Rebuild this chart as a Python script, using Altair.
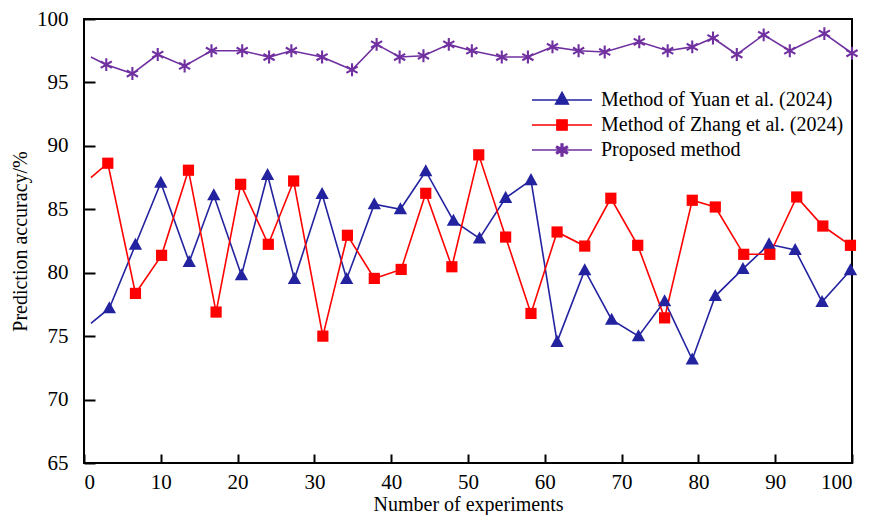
import math
import altair as alt
import pandas as pd

# ---------------- data ----------------
series_names = ["Method of Yuan et al. (2024)", "Method of Zhang et al. (2024)", "Proposed method"]
series_colors = ["#2323A0", "#FF0000", "#7030A0"]

x_yuan = [0.9, 3.3, 6.7, 10.0, 13.7, 16.9, 20.5, 23.9, 27.4, 31.0, 34.2, 37.8, 41.2, 44.5, 48.1,
          51.5, 54.9, 58.2, 61.6, 65.2, 68.7, 72.2, 75.6, 79.2, 82.2, 85.8, 89.2, 92.6, 96.1, 99.8]
yuan = [76.0, 77.2, 82.2, 87.1, 80.85, 86.1, 79.8, 87.7, 79.5, 86.2, 79.5, 85.4, 85.0, 88.0, 84.1,
        82.7, 85.9, 87.3, 74.55, 80.2, 76.3, 75.0, 77.76, 73.16, 78.16, 80.3, 82.24, 81.8, 77.7, 80.2]

x_zhang = [0.9, 3.1, 6.7, 10.1, 13.6, 17.2, 20.4, 24.0, 27.3, 31.1, 34.3, 37.8, 41.3, 44.5, 47.9,
           51.4, 54.9, 58.2, 61.6, 65.2, 68.6, 72.1, 75.6, 79.2, 82.2, 85.9, 89.3, 92.8, 96.2, 99.8]
zhang = [87.5, 88.63, 78.37, 81.37, 88.08, 76.9, 86.97, 82.24, 87.23, 75.0, 82.95, 79.55, 80.26, 86.26, 80.47,
         89.29, 82.81, 76.79, 83.21, 82.1, 85.87, 82.16, 76.44, 85.71, 85.18, 81.45, 81.45, 85.97, 83.68, 82.16]

x_proposed = [0.9, 2.9, 6.3, 9.6, 13.1, 16.6, 20.6, 24.1, 27.0, 31.0, 34.9, 38.1, 41.1, 44.2, 47.5,
              50.5, 54.4, 57.8, 61.0, 64.4, 67.8, 72.3, 76.0, 79.2, 81.9, 85.0, 88.5, 91.9, 96.4, 100.0]
proposed = [97.0, 96.4, 95.7, 97.2, 96.3, 97.5, 97.5, 97.0, 97.5, 97.0, 96.0, 98.0, 97.0, 97.1, 98.0,
            97.5, 97.0, 97.0, 97.8, 97.5, 97.4, 98.2, 97.5, 97.8, 98.5, 97.2, 98.75, 97.5, 98.85, 97.3]

x_ticks = [0, 10, 20, 30, 40, 50, 60, 70, 80, 90, 100]
y_ticks = [65, 70, 75, 80, 85, 90, 95, 100]

FONT = "Liberation Serif"


def rows(name, xs, ys):
    return [{"x": a, "y": b, "series": name, "marker": i > 0} for i, (a, b) in enumerate(zip(xs, ys))]


df = pd.DataFrame(rows(series_names[0], x_yuan, yuan)
                  + rows(series_names[1], x_zhang, zhang)
                  + rows(series_names[2], x_proposed, proposed))


# ---------------- marker shapes (SVG paths) ----------------
def fmt(v):
    return f"{v:.3f}".rstrip("0").rstrip(".")


def asterisk_path(L, w):
    pts = []
    for k in range(6):
        th = math.radians(90 + 60 * k)
        d = (math.cos(th), math.sin(th))
        p = (-d[1], d[0])
        pts.append((L * d[0] - w * p[0], L * d[1] - w * p[1]))
        pts.append((L * d[0] + w * p[0], L * d[1] + w * p[1]))
        th2 = th + math.radians(30)
        pts.append((2 * w * math.cos(th2), 2 * w * math.sin(th2)))
    return "M" + "L".join(f"{fmt(px)},{fmt(-py)}" for px, py in pts) + "Z"


def triangle_path(hw, top, base):
    return f"M0,{fmt(-top)}L{fmt(hw)},{fmt(base)}L{fmt(-hw)},{fmt(base)}Z"


def square_path(h):
    return f"M{fmt(-h)},{fmt(-h)}L{fmt(h)},{fmt(-h)}L{fmt(h)},{fmt(h)}L{fmt(-h)},{fmt(h)}Z"


data_shapes = [triangle_path(0.95, 1.0, 0.72), square_path(0.8), asterisk_path(0.92, 0.15)]
seg = "M-3,0L3,0"
legend_shapes = [seg + triangle_path(0.66, 0.8, 0.42), seg + square_path(0.52), seg + asterisk_path(0.62, 0.1)]

# ---------------- encodings ----------------
x_enc = alt.X("x:Q",
              scale=alt.Scale(domain=[0, 100], nice=False, zero=False),
              axis=alt.Axis(values=x_ticks, title="Number of experiments", grid=False, domain=False,
                            offset=-9, tickSize=9, tickWidth=2, tickColor="black",
                            labelPadding=8, labelFontSize=21, labelColor="black",
                            labelFont=FONT, titleFont=FONT,
                            titleFontSize=20, titleColor="black", titleFontWeight="normal",
                            titlePadding=2))
y_enc = alt.Y("y:Q",
              scale=alt.Scale(domain=[65, 100], nice=False, zero=False),
              axis=alt.Axis(values=y_ticks, title="Prediction accuracy/%", grid=False, domain=False,
                            offset=-11, tickSize=11, tickWidth=2, tickColor="black",
                            labelPadding=16, labelFontSize=21, labelColor="black",
                            labelFont=FONT, titleFont=FONT,
                            titleFontSize=20, titleColor="black", titleFontWeight="normal",
                            titlePadding=6))

layers = []
for name, col in zip(series_names, series_colors):
    ln = alt.Chart(df).transform_filter(
        f"datum.series === '{name}'"
    ).mark_line(strokeWidth=1.6, color=col).encode(x=x_enc, y=y_enc)
    layers.append(ln)

for name, col, shp in zip(series_names, series_colors, data_shapes):
    pts = alt.Chart(df).transform_filter(
        f"datum.series === '{name}' && datum.marker"
    ).mark_point(shape=shp, filled=True, size=196, color=col, opacity=1).encode(x=x_enc, y=y_enc)
    layers.append(pts)

legend_kw = dict(title=" ", titleFontSize=20, titlePadding=42, orient="top-right", offset=8,
                 padding=0, symbolSize=400, symbolOffset=20, labelOffset=28, rowPadding=4,
                 symbolStrokeWidth=1.3, symbolOpacity=1, labelFont=FONT, labelFontSize=20,
                 labelColor="black", labelLimit=400)

legend_layer = alt.Chart(df).mark_point(filled=True, size=196, opacity=0).encode(
    x=x_enc, y=y_enc,
    fill=alt.Fill("series:N", scale=alt.Scale(domain=series_names, range=series_colors),
                  legend=alt.Legend(**legend_kw)),
    stroke=alt.Stroke("series:N", scale=alt.Scale(domain=series_names, range=series_colors),
                      legend=alt.Legend(**legend_kw)),
    shape=alt.Shape("series:N", scale=alt.Scale(domain=series_names, range=legend_shapes),
                    legend=alt.Legend(**legend_kw)),
)
layers.append(legend_layer)

chart = alt.layer(*layers).properties(
    width=768, height=444,
    autosize=alt.AutoSizeParams(type="none"),
    padding={"left": 76, "top": 11, "right": 9, "bottom": 52},
    background="white",
).configure(
    font=FONT
).configure_axis(
    labelFont=FONT, titleFont=FONT
).configure_view(
    stroke="black", strokeWidth=2, fill="white"
)

chart.save("out.html", embed_options={"renderer": "svg", "actions": False})
